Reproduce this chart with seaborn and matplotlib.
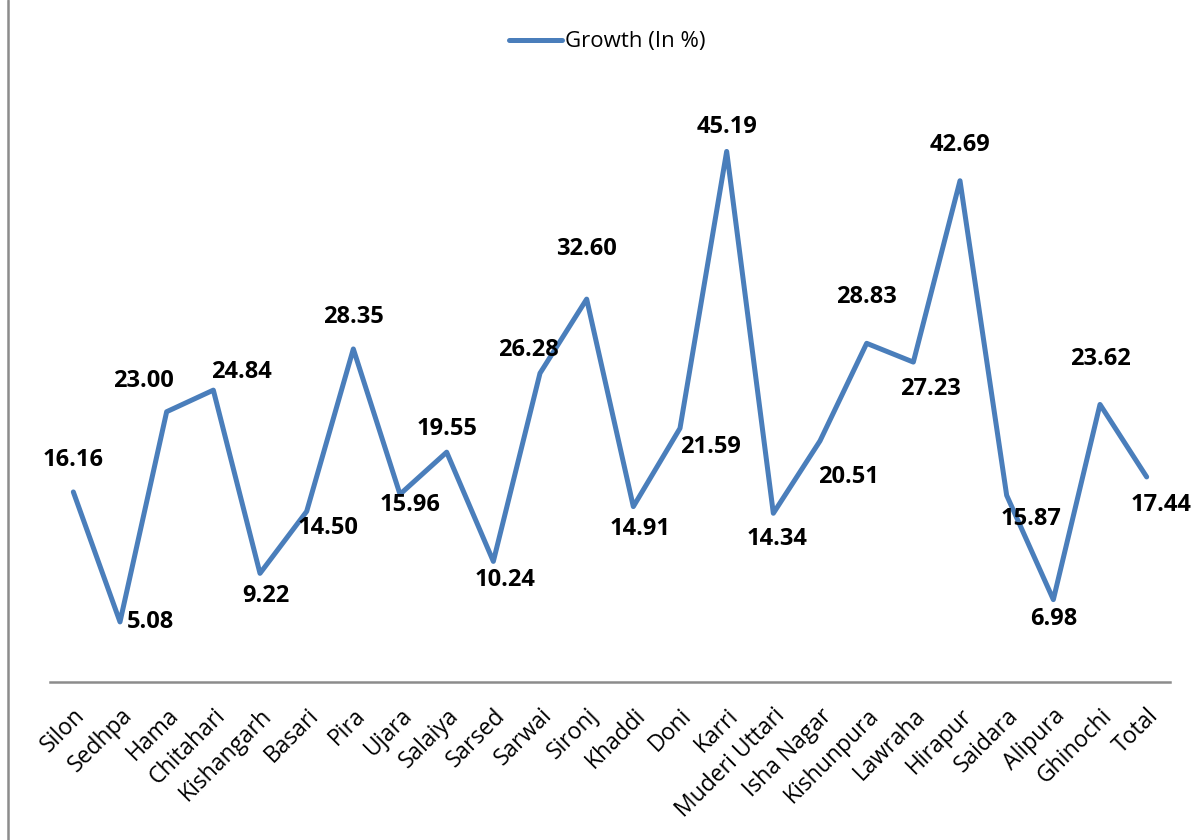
import matplotlib
matplotlib.use("Agg")
import matplotlib.pyplot as plt
import seaborn as sns
import numpy as np
from matplotlib.lines import Line2D

# dados
villages = ["Silon", "Sedhpa", "Hama", "Chitahari", "Kishangarh", "Basari", "Pira",
            "Ujara", "Salaiya", "Sarsed", "Sarwai", "Sironj", "Khaddi", "Doni",
            "Karri", "Muderi Uttari", "Isha Nagar", "Kishunpura", "Lawraha",
            "Hirapur", "Saidara", "Alipura", "Ghinochi", "Total"]
growth = [16.16, 5.08, 23.00, 24.84, 9.22, 14.50, 28.35, 15.96, 19.55, 10.24,
          26.28, 32.60, 14.91, 21.59, 45.19, 14.34, 20.51, 28.83, 27.23, 42.69,
          15.87, 6.98, 23.62, 17.44]

# deslocamento dos rótulos (pixels)
label_dx = [0, 30, -23, 28, 6, 21, 0, 10, 0, 12, -12, 0, 7, 30, 0, 4, 28, 0, 17, 0, 24, 0, 0, 14]
label_dy = [32, 0, 31, 18, -23, -17, 32, -11, 23, -19, 23, 50, -22, -19, 24, -26, -36, 46, -27, 36, -24, -19, 45, -28]

sns.set_style("white")
plt.rcParams["font.family"] = ["Open Sans", "DejaVu Sans"]
plt.rcParams["text.color"] = "black"
plt.rcParams["xtick.color"] = "black"

fig = plt.figure(figsize=(11.95, 8.4), dpi=100)
ax = fig.add_axes([50 / 1195, 1 - 681.5 / 840, 1120 / 1195, 586.5 / 840])

pos = np.arange(len(villages))
sns.lineplot(x=pos, y=growth, ax=ax, color="#4A7EBB", linewidth=3.6,
             sort=False, label="Growth (In %)")

for i, v in enumerate(growth):
    ax.annotate(f"{v:.2f}", (pos[i], v), xytext=(label_dx[i], label_dy[i]),
                textcoords="offset pixels", ha="center", va="center",
                fontsize=17, fontweight="bold", color="black")

ax.set_xlim(-0.5, len(villages) - 0.5)
ax.set_ylim(0, 50)
ax.set_xticks(pos)
ax.set_xticklabels(villages, rotation=45, ha="right", rotation_mode="anchor",
                   fontsize=16.5, color="black")
ax.tick_params(axis="x", length=0, pad=16)
ax.set_yticks([])
for s in ["top", "right", "left"]:
    ax.spines[s].set_visible(False)
ax.spines["bottom"].set_color("#8C8C8C")
ax.spines["bottom"].set_linewidth(1.8)

leg = ax.legend(loc="center", bbox_to_anchor=(607 / 1195, 1 - 42 / 840),
                bbox_transform=fig.transFigure, frameon=False, fontsize=16,
                handlelength=2.4, handletextpad=0.1)
for t in leg.get_texts():
    t.set_color("black")

# borda esquerda do gráfico
fig.add_artist(Line2D([8 / 1195, 8 / 1195], [0, 1], transform=fig.transFigure,
                      color="#8C8C8C", linewidth=1.8))

fig.savefig("out.png", dpi=100)
